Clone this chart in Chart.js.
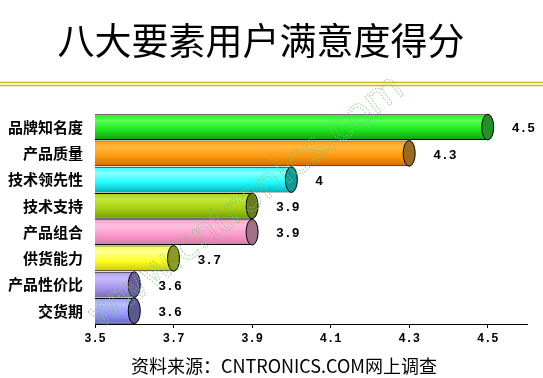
<!DOCTYPE html>
<html>
<head>
<meta charset="utf-8">
<script src="https://cdn.jsdelivr.net/npm/chart.js@4/dist/chart.umd.min.js"></script>
<style>
  html, body { margin: 0; padding: 0; background: #fff; }
  #wrap { width: 543px; height: 378px; position: relative; }
</style>
</head>
<body>
<div id="wrap"><canvas id="c"></canvas></div>
<script>
// ---- data ----
const titleText = '八大要素用户满意度得分';
const sourceText = '资料来源：CNTRONICS.COM网上调查';
const categories = ['品牌知名度', '产品质量', '技术领先性', '技术支持', '产品组合', '供货能力', '产品性价比', '交货期'];
const scores = [4.5, 4.3, 4, 3.9, 3.9, 3.7, 3.6, 3.6];
const scoreLabels = ['4.5', '4.3', '4', '3.9', '3.9', '3.7', '3.6', '3.6'];
const tickValues = [3.5, 3.7, 3.9, 4.1, 4.3, 4.5];
const tickLabels = ['3.5', '3.7', '3.9', '4.1', '4.3', '4.5'];
const axisMin = 3.5, axisMax = 4.6;

// ---- styles ----
const baseColors  = ['#1ee61e', '#ff9a0e', '#22ffff', '#a8d010', '#ff99cc', '#ffff22', '#aa99ee', '#9999ff'];
const lightColors = ['#55ff55', '#ffb840', '#88ffff', '#c4e838', '#ffc0e0', '#ffff99', '#cabcff', '#bcbcff'];
const darkColors  = ['#119911', '#cc6a00', '#00b0c0', '#6e9a00', '#d07aa4', '#c8c800', '#7766bb', '#6666cc'];
const capColors   = ['#22902a', '#9a6a20', '#109a9a', '#6a7a20', '#a07088', '#8a9a20', '#6a5a9a', '#5a5a90'];

function barGradient(ctx) {
  const chart = ctx.chart;
  const i = ctx.dataIndex;
  const ys = chart.scales.y;
  if (!ys || !chart.chartArea) return baseColors[i];
  const c = ys.getPixelForValue(i);
  const h = (ys.bottom - ys.top) / categories.length;
  const g = chart.ctx.createLinearGradient(0, c - h / 2, 0, c + h / 2);
  g.addColorStop(0, baseColors[i]);
  g.addColorStop(0.25, lightColors[i]);
  g.addColorStop(0.6, baseColors[i]);
  g.addColorStop(1, darkColors[i]);
  return g;
}

const cylinderPlugin = {
  id: 'cylinder',
  beforeDatasetsDraw(chart) {
    const ctx = chart.ctx;
    const meta = chart.getDatasetMeta(0);
    ctx.save();
    meta.data.forEach((el, i) => {
      const h = el.height;
      ctx.beginPath();
      ctx.ellipse(el.base, el.y, 5, h / 2, 0, Math.PI / 2, Math.PI * 1.5);
      ctx.fillStyle = baseColors[i];
      ctx.fill();
      ctx.lineWidth = 1;
      ctx.strokeStyle = '#000';
      ctx.stroke();
    });
    ctx.restore();
  },
  afterDatasetsDraw(chart) {
    const ctx = chart.ctx;
    const meta = chart.getDatasetMeta(0);
    ctx.save();
    meta.data.forEach((el, i) => {
      const h = el.height;
      ctx.beginPath();
      ctx.ellipse(el.x, el.y, 6, h / 2, 0, 0, Math.PI * 2);
      ctx.fillStyle = capColors[i];
      ctx.fill();
      ctx.lineWidth = 1;
      ctx.strokeStyle = '#000';
      ctx.stroke();
    });
    // watermark
    ctx.save();
    ctx.translate(100, 330);
    ctx.rotate(-0.66);
    ctx.font = '40px "DejaVu Sans", sans-serif';
    ctx.textAlign = 'left';
    ctx.textBaseline = 'alphabetic';
    ctx.setLineDash([1.5, 1.5]);
    ctx.lineWidth = 1;
    ctx.strokeStyle = 'rgba(120, 200, 120, 0.8)';
    ctx.strokeText('www.cntronics.com', 0, 0);
    ctx.restore();
    // value labels
    meta.data.forEach((el, i) => {
      ctx.fillStyle = '#000';
      ctx.font = 'bold 13px "Liberation Mono", "DejaVu Sans Mono", monospace';
      ctx.textAlign = 'left';
      ctx.textBaseline = 'middle';
      ctx.fillText(scoreLabels[i], el.x + 24, el.y + 2);
    });
    ctx.restore();
  }
};

const framePlugin = {
  id: 'frame',
  afterDraw(chart) {
    const ctx = chart.ctx;
    ctx.save();
    // title
    ctx.fillStyle = '#000';
    ctx.font = '37px "Noto Sans CJK SC", sans-serif';
    ctx.textAlign = 'center';
    ctx.textBaseline = 'middle';
    ctx.fillText(titleText, 261, 41);
    // double gold line
    ctx.strokeStyle = '#c8b42a';
    ctx.lineWidth = 1.5;
    ctx.beginPath();
    ctx.moveTo(0, 82.5); ctx.lineTo(543, 82.5);
    ctx.moveTo(0, 85.5); ctx.lineTo(543, 85.5);
    ctx.stroke();
    ctx.strokeStyle = '#fff9b0';
    ctx.lineWidth = 1;
    ctx.beginPath();
    ctx.moveTo(0, 84); ctx.lineTo(543, 84);
    ctx.stroke();
    // source
    ctx.font = '18px "Noto Sans CJK SC", sans-serif';
    ctx.fillText(sourceText, 284, 366);
    ctx.restore();
  }
};

new Chart(document.getElementById('c'), {
  type: 'bar',
  data: {
    labels: categories,
    datasets: [{
      data: scores,
      backgroundColor: barGradient,
      borderColor: '#000',
      borderWidth: 1,
      borderSkipped: 'start',
      barPercentage: 0.98,
      categoryPercentage: 1
    }]
  },
  plugins: [cylinderPlugin, framePlugin],
  options: {
    indexAxis: 'y',
    responsive: true,
    maintainAspectRatio: false,
    animation: false,
    layout: { padding: { top: 114, right: 16, bottom: 30, left: 0 } },
    plugins: { legend: { display: false }, tooltip: { enabled: false } },
    scales: {
      x: {
        min: axisMin,
        max: axisMax,
        afterBuildTicks: (s) => { s.ticks = tickValues.map(v => ({ value: v })); },
        afterFit: (s) => { s.height = 24; },
        ticks: {
          callback: (v) => { const k = tickValues.indexOf(v); return k >= 0 ? tickLabels[k] : ''; },
          color: '#000',
          padding: 4,
          maxRotation: 0,
          font: { family: '"Liberation Mono", "DejaVu Sans Mono", monospace', size: 12, weight: 'bold' }
        },
        grid: { drawOnChartArea: false, drawTicks: true, tickLength: 4, color: '#000' },
        border: { display: true, color: '#000', width: 1 }
      },
      y: {
        afterFit: (s) => { s.width = 95; },
        ticks: {
          color: '#000',
          padding: 4,
          font: { family: '"Noto Sans CJK SC", sans-serif', size: 15, weight: 'bold' }
        },
        grid: { display: false },
        border: { display: false }
      }
    }
  }
});
</script>
</body>
</html>
